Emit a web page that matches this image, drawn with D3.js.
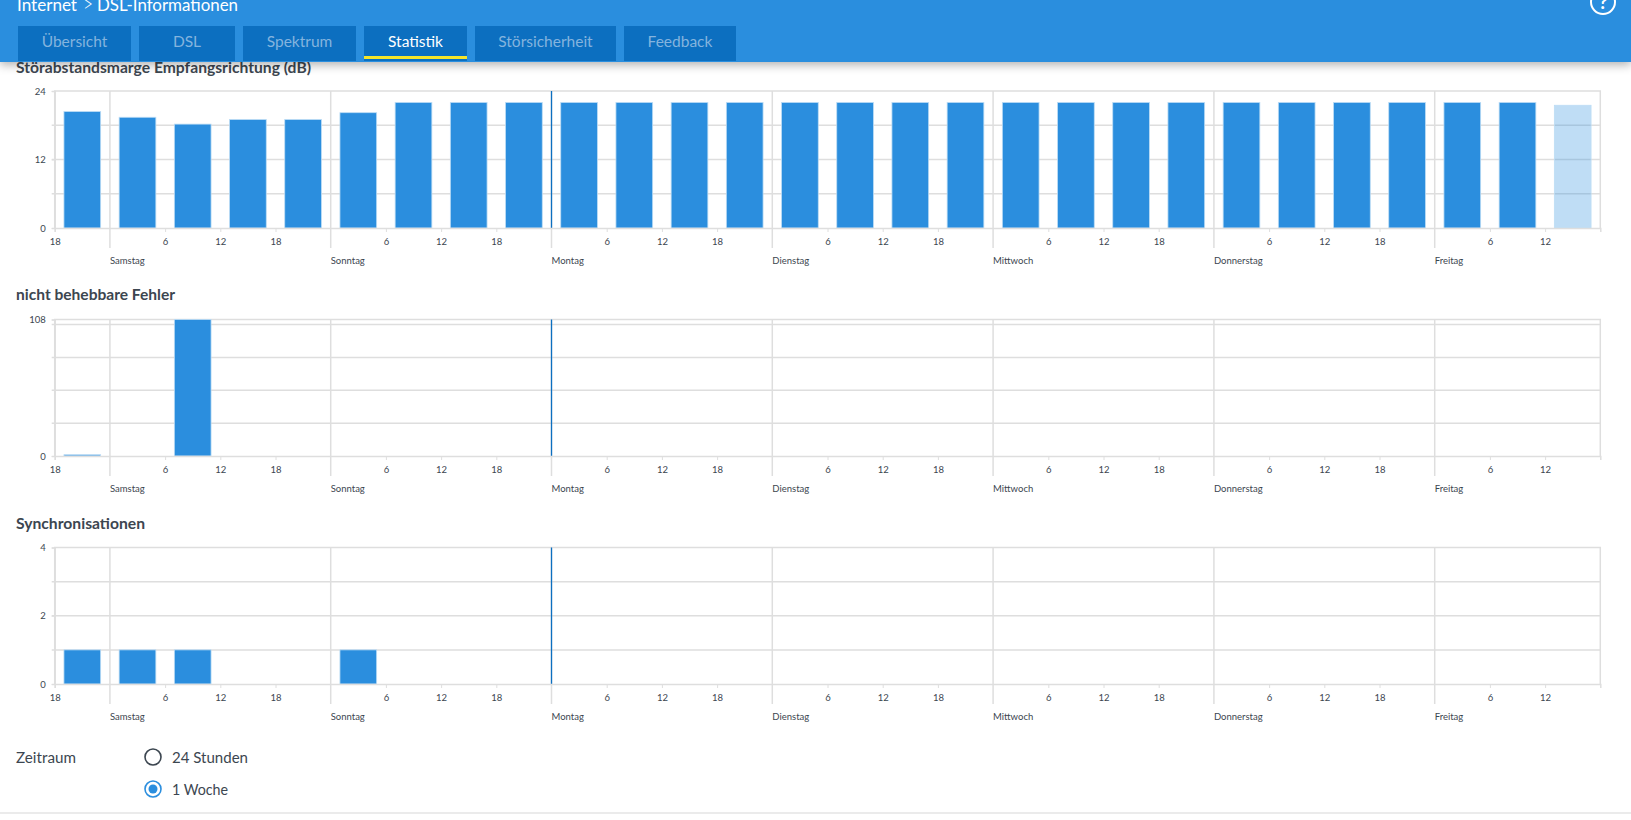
<!DOCTYPE html>
<html lang="de"><head><meta charset="utf-8">
<script src="https://cdn.jsdelivr.net/npm/d3@7/dist/d3.min.js"></script>
<style>
html,body{margin:0;padding:0;background:#fff;overflow:hidden}
svg{display:block}
text{font-family:Lato,Roboto,sans-serif}
</style></head><body>
<svg id="c" width="1631" height="820"></svg>
<script>
// Data
const binLabels = ["Fr 18","Sa 0","Sa 6","Sa 12","Sa 18","So 0","So 6","So 12","So 18","Mo 0","Mo 6","Mo 12","Mo 18","Di 0","Di 6","Di 12","Di 18","Mi 0","Mi 6","Mi 12","Mi 18","Do 0","Do 6","Do 12","Do 18","Fr 0","Fr 6","Fr 12"];
const snrValues = [20.4,19.4,18.2,19,19,20.2,22,22,22,22,22,22,22,22,22,22,22,22,22,22,22,22,22,22,22,22,22,21.5];
const errorValues = [1,0,108,0,0,0,0,0,0,0,0,0,0,0,0,0,0,0,0,0,0,0,0,0,0,0,0,0];
const syncValues = [1,1,1,0,0,1,0,0,0,0,0,0,0,0,0,0,0,0,0,0,0,0,0,0,0,0,0,0];
const weekdays = ["Samstag","Sonntag","Montag","Dienstag","Mittwoch","Donnerstag","Freitag"];
const dayStartHours = [6,30,54,78,102,126,150];
const hourTicks = [0,12,18,24,36,42,48,60,66,72,84,90,96,108,114,120,132,138,144,156,162];
const hourTickLabels = ["18","6","12","18","6","12","18","6","12","18","6","12","18","6","12","18","6","12","18","6","12"];
const tabs = ["Übersicht","DSL","Spektrum","Statistik","Störsicherheit","Feedback"];
const tabEdges = [[18,131],[139,235],[243,356],[364,467],[475,616],[624,736]];
const activeTab = 3, currentDayIndex = 2, partialBin = 27;

const charts = [
 {title:"Störabstandsmarge Empfangsrichtung (dB)",titleY:68,titleW:295,values:snrValues,max:24,labels:[0,12,24],grid:[6,12,18],top:91,bottom:228},
 {title:"nicht behebbare Fehler",titleY:295,titleW:159,values:errorValues,max:108,labels:[0,108],grid:[26,52,78,104],top:319.5,bottom:456},
 {title:"Synchronisationen",titleY:524,titleW:129,values:syncValues,max:4,labels:[0,2,4],grid:[1,2,3],top:547.5,bottom:684}
];

const BLUE="#2b8ede", DARK="#0c6fc0", GRID="#dedede", TXT="#3c4650";
const svg=d3.select("#c");
const defs=svg.append("defs");
const f=defs.append("filter").attr("id","sh").attr("x","-5%").attr("y","-20%").attr("width","110%").attr("height","160%");
f.append("feDropShadow").attr("dx",0).attr("dy",3).attr("stdDeviation",5).attr("flood-color","#000").attr("flood-opacity",.3);

const x=d3.scaleLinear().domain([0,168]).range([54.7,1600.3]);
const band=d3.scaleBand().domain(binLabels).range([54.7,1600.3]).paddingInner(0.335).paddingOuter(0.1675);

charts.forEach(c=>{
  const y=d3.scaleLinear().domain([0,c.max]).range([c.bottom,c.top]);
  const g=svg.append("g");
  g.append("g").selectAll("line").data(c.grid).join("line")
    .attr("x1",x(0)-3).attr("x2",x(168)).attr("y1",d=>y(d)).attr("y2",d=>y(d))
    .attr("stroke",GRID).attr("stroke-width",1.5);
  g.append("path").attr("fill","none").attr("stroke",GRID).attr("stroke-width",1.5)
    .attr("d",`M${x(0)},${c.bottom}V${c.top}H${x(168)}V${c.bottom}`);
  g.append("g").selectAll("line").data(dayStartHours).join("line")
    .attr("x1",d=>x(d)).attr("x2",d=>x(d)).attr("y1",c.top).attr("y2",c.bottom+20)
    .attr("stroke",GRID).attr("stroke-width",1.5);
  g.append("g").selectAll("rect").data(c.values.map((v,i)=>({v,i}))).join("rect")
    .filter(d=>d.v>0)
    .attr("x",d=>band(binLabels[d.i])).attr("width",band.bandwidth())
    .attr("y",d=>y(d.v)).attr("height",d=>y(0)-y(d.v))
    .attr("fill",BLUE)
    .attr("fill-opacity",d=>d.i===partialBin?.3:1)
    .attr("stroke","#bcdcf5").attr("stroke-width",.8);
  g.append("line").attr("x1",x(dayStartHours[currentDayIndex])).attr("x2",x(dayStartHours[currentDayIndex]))
    .attr("y1",c.top).attr("y2",c.bottom).attr("stroke",DARK).attr("stroke-width",1.3);
  const ya=g.append("g").attr("transform",`translate(${x(0)},0)`)
    .call(d3.axisLeft(y).tickValues(c.labels).tickFormat(d3.format("d")).tickSize(3).tickPadding(6));
  ya.select(".domain").attr("stroke",GRID).attr("stroke-width",1.5);
  ya.selectAll(".tick line").attr("stroke",GRID);
  ya.selectAll("text").attr("font-size",9.5).attr("fill",TXT).style("font-family","Lato");
  const xa=g.append("g").attr("transform",`translate(0,${c.bottom})`)
    .call(d3.axisBottom(x).tickValues(hourTicks).tickFormat((d,i)=>hourTickLabels[i]).tickSize(4).tickPadding(6));
  xa.select(".domain").attr("stroke",GRID).attr("stroke-width",1.5);
  xa.selectAll(".tick line").attr("stroke",GRID);
  xa.selectAll("text").attr("font-size",9.5).attr("fill",TXT).style("font-family","Lato");
  g.append("g").selectAll("text").data(weekdays).join("text")
    .attr("x",(d,i)=>x(dayStartHours[i])).attr("y",c.bottom+36)
    .attr("font-size",9.5).attr("fill",TXT).text(d=>d);
  svg.append("text").attr("class","title").attr("x",16).attr("y",c.titleY+5)
    .attr("font-size",15).attr("font-weight",700).attr("fill",TXT)
    .attr("textLength",c.titleW).attr("lengthAdjust","spacingAndGlyphs").text(c.title);
});

// form
svg.append("text").attr("x",16).attr("y",763).attr("font-size",15.5).attr("fill",TXT).attr("textLength",60).attr("lengthAdjust","spacingAndGlyphs").text("Zeitraum");
svg.append("circle").attr("cx",153).attr("cy",757).attr("r",8).attr("fill","#fff").attr("stroke",TXT).attr("stroke-width",1.6);
svg.append("text").attr("x",172).attr("y",763).attr("font-size",15.5).attr("fill",TXT).attr("textLength",76).attr("lengthAdjust","spacingAndGlyphs").text("24 Stunden");
svg.append("circle").attr("cx",153).attr("cy",789).attr("r",8).attr("fill","#fff").attr("stroke",BLUE).attr("stroke-width",1.6);
svg.append("circle").attr("cx",153).attr("cy",789).attr("r",4.5).attr("fill",BLUE);
svg.append("text").attr("x",172).attr("y",795).attr("font-size",15.5).attr("fill",TXT).attr("textLength",56).attr("lengthAdjust","spacingAndGlyphs").text("1 Woche");
svg.append("line").attr("x1",0).attr("x2",1631).attr("y1",813).attr("y2",813).attr("stroke","#d8d8d8").attr("stroke-width",1.2);

// header, drawn last so that its shadow falls on the page below
const h=svg.append("g");
h.append("rect").attr("x",0).attr("y",0).attr("width",1631).attr("height",62).attr("fill",BLUE).attr("filter","url(#sh)");
h.append("text").attr("x",17).attr("y",11).attr("font-size",18).attr("fill","#fff").attr("textLength",60).attr("lengthAdjust","spacingAndGlyphs").text("Internet");
h.append("text").attr("x",83).attr("y",12).attr("font-size",23).attr("font-weight",300).attr("fill","#fff").attr("textLength",10).attr("lengthAdjust","spacingAndGlyphs").text(">");
h.append("text").attr("x",97).attr("y",11).attr("font-size",18).attr("fill","#fff").attr("textLength",141).attr("lengthAdjust","spacingAndGlyphs").text("DSL-Informationen");
tabs.forEach((t,i)=>{
  const [a,b]=tabEdges[i];
  h.append("rect").attr("x",a).attr("y",26).attr("width",b-a).attr("height",35).attr("fill",DARK);
  h.append("text").attr("x",(a+b)/2).attr("y",47).attr("text-anchor","middle").attr("font-size",15.5)
    .attr("fill",i===activeTab?"#fff":"#84b4de").text(t);
  if(i===activeTab) h.append("rect").attr("x",a).attr("y",56).attr("width",b-a).attr("height",3).attr("fill","#f5e52a");
});
h.append("circle").attr("cx",1603).attr("cy",2).attr("r",12).attr("fill","none").attr("stroke","#fff").attr("stroke-width",2);
h.append("text").attr("x",1603).attr("y",9).attr("text-anchor","middle").attr("font-size",19).attr("font-weight",700).attr("fill","#fff").text("?");
</script></body></html>
